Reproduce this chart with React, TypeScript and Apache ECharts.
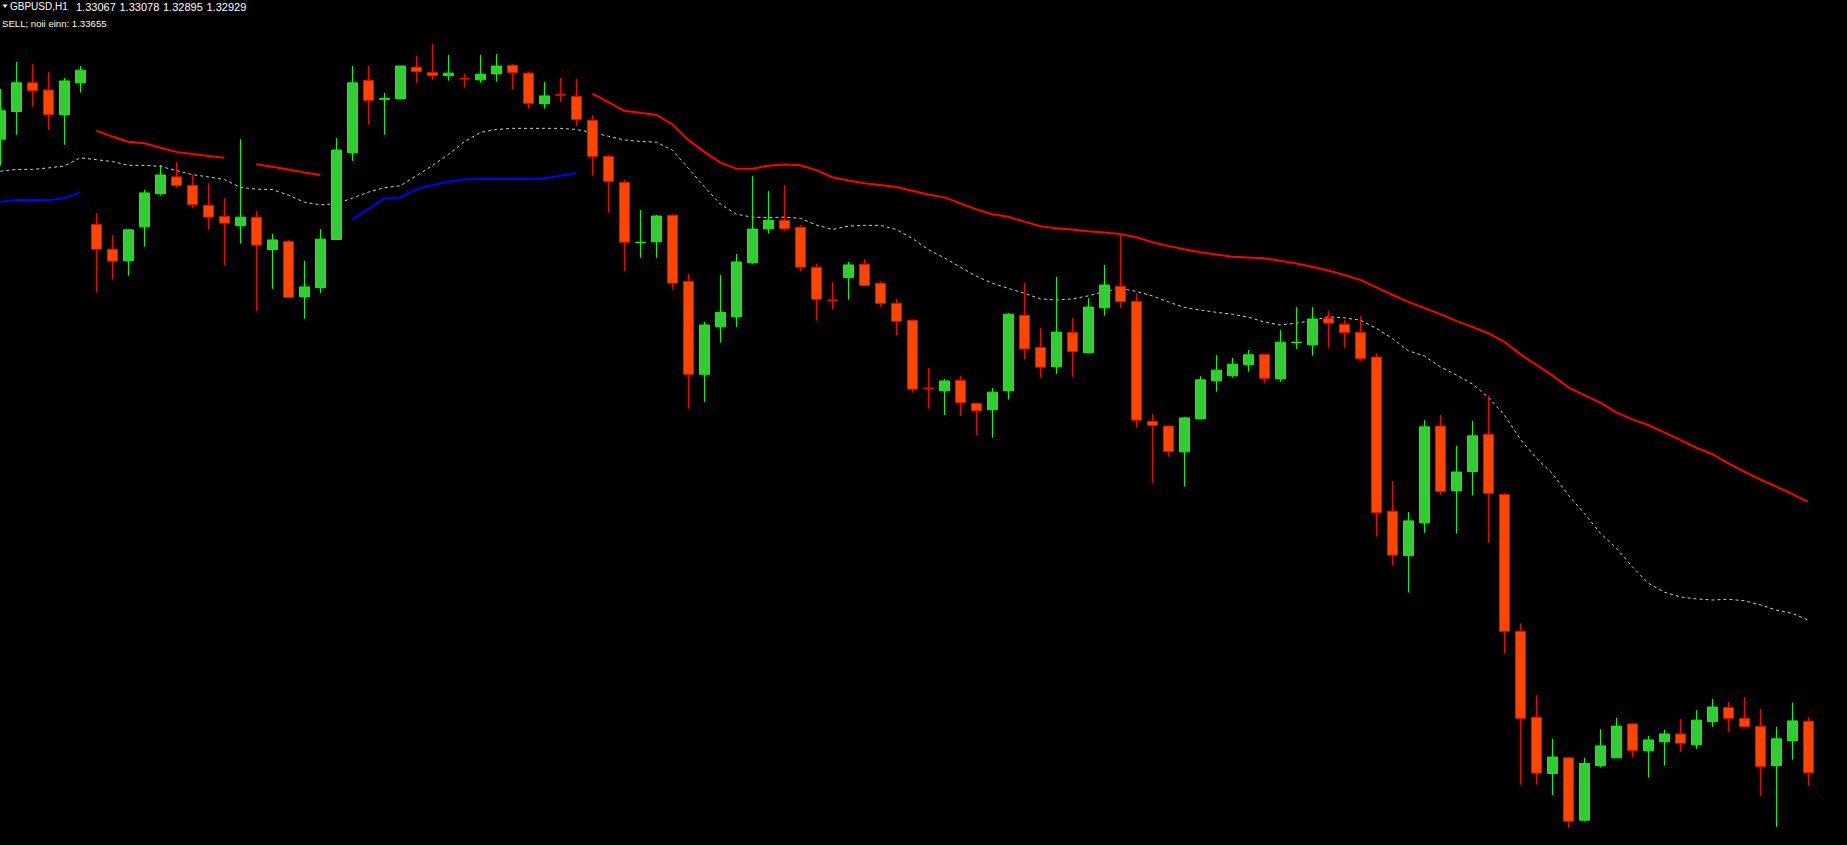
import React, { useEffect, useRef } from "react";
import * as echarts from "echarts";

// GBPUSD H1 candles (prices)
const opens = [1.34627,1.34701,1.34778,1.34759,1.34693,1.34778,1.34399,1.34332,1.34301,1.34392,1.34481,1.34526,1.34503,1.34450,1.34420,1.34395,1.34418,1.34331,1.34353,1.34205,1.34229,1.34358,1.34591,1.34785,1.34734,1.34736,1.34820,1.34806,1.34797,1.34790,1.34786,1.34802,1.34825,1.34804,1.34722,1.34746,1.34742,1.34678,1.34581,1.34511,1.34350,1.34352,1.34423,1.34246,1.33997,1.34124,1.34151,1.34296,1.34387,1.34410,1.34391,1.34284,1.34196,1.34256,1.34292,1.34241,1.34187,1.34142,1.33960,1.33953,1.33981,1.33919,1.33902,1.33953,1.34155,1.34069,1.34017,1.34109,1.34055,1.34175,1.34233,1.34192,1.33871,1.33858,1.33789,1.33878,1.33980,1.33993,1.34023,1.34050,1.33985,1.34082,1.34076,1.34147,1.34131,1.34109,1.34043,1.33630,1.33511,1.33599,1.33858,1.33685,1.33736,1.33836,1.33675,1.33308,1.33078,1.32927,1.32969,1.32802,1.32948,1.32969,1.33060,1.32988,1.33012,1.33033,1.33004,1.33066,1.33104,1.33075,1.33053,1.32948,1.33015,1.33067];
const highs = [1.34762,1.34834,1.34828,1.34807,1.34791,1.34823,1.34429,1.34370,1.34386,1.34491,1.34558,1.34566,1.34532,1.34509,1.34469,1.34627,1.34435,1.34373,1.34357,1.34301,1.34386,1.34630,1.34823,1.34823,1.34751,1.34823,1.34850,1.34882,1.34853,1.34802,1.34853,1.34855,1.34828,1.34807,1.34780,1.34791,1.34789,1.34692,1.34585,1.34519,1.34437,1.34424,1.34426,1.34266,1.34137,1.34263,1.34319,1.34528,1.34488,1.34504,1.34397,1.34293,1.34244,1.34298,1.34306,1.34246,1.34199,1.34142,1.34014,1.33984,1.33992,1.33919,1.33960,1.34161,1.34242,1.34121,1.34258,1.34148,1.34201,1.34290,1.34370,1.34214,1.33890,1.33861,1.33883,1.33992,1.34049,1.34041,1.34062,1.34050,1.34116,1.34177,1.34177,1.34167,1.34142,1.34153,1.34053,1.33711,1.33628,1.33874,1.33888,1.33805,1.33872,1.33939,1.33679,1.33330,1.33137,1.33020,1.32971,1.32969,1.33046,1.33076,1.33062,1.33028,1.33044,1.33073,1.33097,1.33127,1.33119,1.33132,1.33100,1.33052,1.33117,1.33078];
const lows = [1.34556,1.34639,1.34714,1.34652,1.34612,1.34752,1.34216,1.34251,1.34261,1.34339,1.34476,1.34497,1.34443,1.34384,1.34288,1.34347,1.34167,1.34226,1.34201,1.34146,1.34215,1.34358,1.34569,1.34666,1.34639,1.34733,1.34778,1.34786,1.34784,1.34765,1.34778,1.34781,1.34760,1.34709,1.34709,1.34727,1.34662,1.34529,1.34430,1.34274,1.34309,1.34309,1.34225,1.33905,1.33923,1.34082,1.34124,1.34293,1.34374,1.34382,1.34274,1.34141,1.34170,1.34197,1.34235,1.34178,1.34102,1.33948,1.33905,1.33888,1.33885,1.33834,1.33827,1.33929,1.34038,1.33988,1.33998,1.33990,1.34055,1.34154,1.34175,1.33854,1.33706,1.33776,1.33696,1.33878,1.33950,1.33988,1.34004,1.33974,1.33977,1.34065,1.34047,1.34068,1.34068,1.34033,1.33562,1.33484,1.33412,1.33572,1.33674,1.33570,1.33672,1.33546,1.33248,1.32897,1.32897,1.32869,1.32782,1.32798,1.32943,1.32969,1.32971,1.32916,1.32948,1.32985,1.32993,1.33052,1.33039,1.33053,1.32867,1.32784,1.32964,1.32895];
const closes = [1.34703,1.34778,1.34757,1.34693,1.34783,1.34812,1.34332,1.34300,1.34384,1.34483,1.34531,1.34503,1.34452,1.34418,1.34402,1.34418,1.34343,1.34357,1.34203,1.34231,1.34359,1.34598,1.34778,1.34731,1.34736,1.34823,1.34808,1.34797,1.34804,1.34789,1.34801,1.34823,1.34806,1.34723,1.34743,1.34745,1.34680,1.34581,1.34514,1.34351,1.34351,1.34421,1.34241,1.33997,1.34129,1.34163,1.34298,1.34386,1.34410,1.34387,1.34284,1.34198,1.34195,1.34290,1.34235,1.34187,1.34139,1.33957,1.33959,1.33979,1.33921,1.33899,1.33949,1.34158,1.34065,1.34016,1.34110,1.34058,1.34177,1.34236,1.34192,1.33874,1.33860,1.33790,1.33880,1.33982,1.34008,1.34024,1.34049,1.33986,1.34083,1.34083,1.34145,1.34134,1.34109,1.34039,1.33626,1.33512,1.33604,1.33856,1.33683,1.33735,1.33832,1.33678,1.33308,1.33075,1.32928,1.32971,1.32799,1.32954,1.33001,1.33054,1.32989,1.33017,1.33033,1.33008,1.33070,1.33105,1.33075,1.33053,1.32946,1.33020,1.33068,1.32929];

// Indicator lines
const N = null;
const upperBand = [N,N,N,N,N,N,1.34650,1.34634,1.34620,1.34616,1.34604,1.34593,1.34587,1.34582,1.34577,N,1.34560,1.34553,1.34546,1.34538,1.34531,N,N,N,N,N,N,N,N,N,N,N,N,N,N,N,N,1.34749,1.34726,1.34703,1.34698,1.34692,1.34667,1.34625,1.34593,1.34564,1.34548,1.34548,1.34556,1.34559,1.34557,1.34544,1.34525,1.34516,1.34509,1.34504,1.34499,1.34489,1.34479,1.34471,1.34455,1.34439,1.34426,1.34419,1.34406,1.34394,1.34388,1.34385,1.34380,1.34377,1.34373,1.34364,1.34351,1.34341,1.34332,1.34324,1.34318,1.34312,1.34310,1.34308,1.34301,1.34294,1.34285,1.34275,1.34263,1.34250,1.34230,1.34210,1.34191,1.34175,1.34158,1.34140,1.34124,1.34107,1.34084,1.34051,1.34022,1.33994,1.33962,1.33941,1.33921,1.33895,1.33876,1.33861,1.33841,1.33821,1.33800,1.33783,1.33758,1.33736,1.33715,1.33696,1.33676,1.33655];
const lowerBand = [1.34459,1.34464,1.34465,1.34464,1.34469,1.34485,N,N,N,N,N,N,N,N,N,N,N,N,N,N,N,N,1.34413,1.34440,1.34469,1.34471,1.34493,1.34504,1.34513,1.34519,1.34520,1.34520,1.34520,1.34520,1.34522,1.34529,1.34537,N,N,N,N,N,N,N,N,N,N,N,N,N,N,N,N,N,N,N,N,N,N,N,N,N,N,N,N,N,N,N,N,N,N,N,N,N,N,N,N,N,N,N,N,N,N,N,N,N,N,N,N,N,N,N,N,N,N,N,N,N,N,N,N,N,N,N,N,N,N,N,N,N,N,N,N,N];
const midLine = [1.34541,1.34546,1.34546,1.34550,1.34555,1.34577,1.34572,1.34567,1.34557,1.34557,1.34554,1.34543,1.34532,1.34526,1.34519,1.34498,1.34493,1.34492,1.34477,1.34458,1.34451,1.34454,1.34469,1.34485,1.34497,1.34502,1.34529,1.34556,1.34586,1.34620,1.34645,1.34653,1.34656,1.34656,1.34656,1.34656,1.34653,1.34645,1.34635,1.34625,1.34621,1.34619,1.34598,1.34549,1.34500,1.34453,1.34426,1.34418,1.34417,1.34418,1.34415,1.34397,1.34385,1.34394,1.34396,1.34396,1.34385,1.34361,1.34331,1.34309,1.34284,1.34260,1.34241,1.34227,1.34214,1.34199,1.34196,1.34199,1.34207,1.34219,1.34227,1.34219,1.34207,1.34191,1.34176,1.34169,1.34163,1.34158,1.34150,1.34137,1.34129,1.34134,1.34141,1.34151,1.34148,1.34142,1.34120,1.34093,1.34060,1.34046,1.34017,1.33995,1.33971,1.33935,1.33888,1.33823,1.33772,1.33731,1.33673,1.33624,1.33571,1.33531,1.33481,1.33437,1.33413,1.33400,1.33395,1.33392,1.33394,1.33390,1.33379,1.33365,1.33356,1.33338];

const symbolTitle = "GBPUSD,H1";
const ohlcValues = ["1.33067", "1.33078", "1.32895", "1.32929"];
const signalText = "SELL; noii einn: 1.33655";

const OFFSET = 20; // chart canvas extends 20px past the left edge so the first candle is cut in half

export default function App() {
  const ref = useRef<HTMLDivElement>(null);
  useEffect(() => {
    document.body.style.margin = "0";
    document.body.style.background = "#000";
    if (!ref.current) return;
    const chart = echarts.init(ref.current, null, { renderer: "svg" });
    const cats = opens.map((_, i) => String(i));
    const candles = opens.map((o, i) => [o, closes[i], lows[i], highs[i]]);
    const fontTitle = '10px "Liberation Sans", Arial, sans-serif';
    const fontNum = '11px "Liberation Sans", Arial, sans-serif';
    const fontSignal = '9.6px "Liberation Sans", Arial, sans-serif';
    const ohlcGraphics = ohlcValues.map((v, k) => ({
      type: "text",
      x: OFFSET + 76 + k * 43.5,
      y: 6.5,
      style: { text: v, fill: "#FFFFFF", font: fontNum, verticalAlign: "middle" },
    }));
    chart.setOption({
      animation: false,
      backgroundColor: "#000000",
      grid: { left: OFFSET - 7.67, right: 30.67, top: 0, bottom: 0, containLabel: false },
      xAxis: { type: "category", data: cats, show: false, boundaryGap: true },
      yAxis: { type: "value", min: 1.327354, max: 1.35, show: false, scale: true },
      series: [
        {
          type: "line",
          data: midLine,
          showSymbol: false,
          connectNulls: false,
          lineStyle: { color: "#D0D0D0", width: 1, type: [3, 3] },
          z: 1,
        },
        {
          type: "line",
          data: upperBand,
          showSymbol: false,
          connectNulls: false,
          lineStyle: { color: "#FF0000", width: 2 },
          z: 2,
        },
        {
          type: "line",
          data: lowerBand,
          showSymbol: false,
          connectNulls: false,
          lineStyle: { color: "#0000FF", width: 2 },
          z: 2,
        },
        {
          type: "candlestick",
          data: candles,
          barWidth: 10,
          itemStyle: {
            color: "#32CD32",
            color0: "#FF4500",
            borderColor: "#00FF00",
            borderColor0: "#FF0000",
            borderWidth: 1,
          },
          z: 3,
        },
      ],
      graphic: [
        {
          type: "polygon",
          shape: { points: [[OFFSET + 2.5, 4.5], [OFFSET + 7.5, 4.5], [OFFSET + 5, 8]] },
          style: { fill: "#FFFFFF" },
        },
        {
          type: "text",
          x: OFFSET + 10,
          y: 6.5,
          style: { text: symbolTitle, fill: "#FFFFFF", font: fontTitle, verticalAlign: "middle" },
        },
        ...ohlcGraphics,
        {
          type: "text",
          x: OFFSET + 2,
          y: 23,
          style: { text: signalText, fill: "#FFFFD8", font: fontSignal, verticalAlign: "middle" },
        },
      ],
    });
    return () => chart.dispose();
  }, []);
  return (
    <div style={{ width: 1847, height: 845, overflow: "hidden", position: "relative", background: "#000" }}>
      <div ref={ref} style={{ position: "absolute", left: -OFFSET, top: 0, width: 1847 + OFFSET, height: 845 }} />
    </div>
  );
}
